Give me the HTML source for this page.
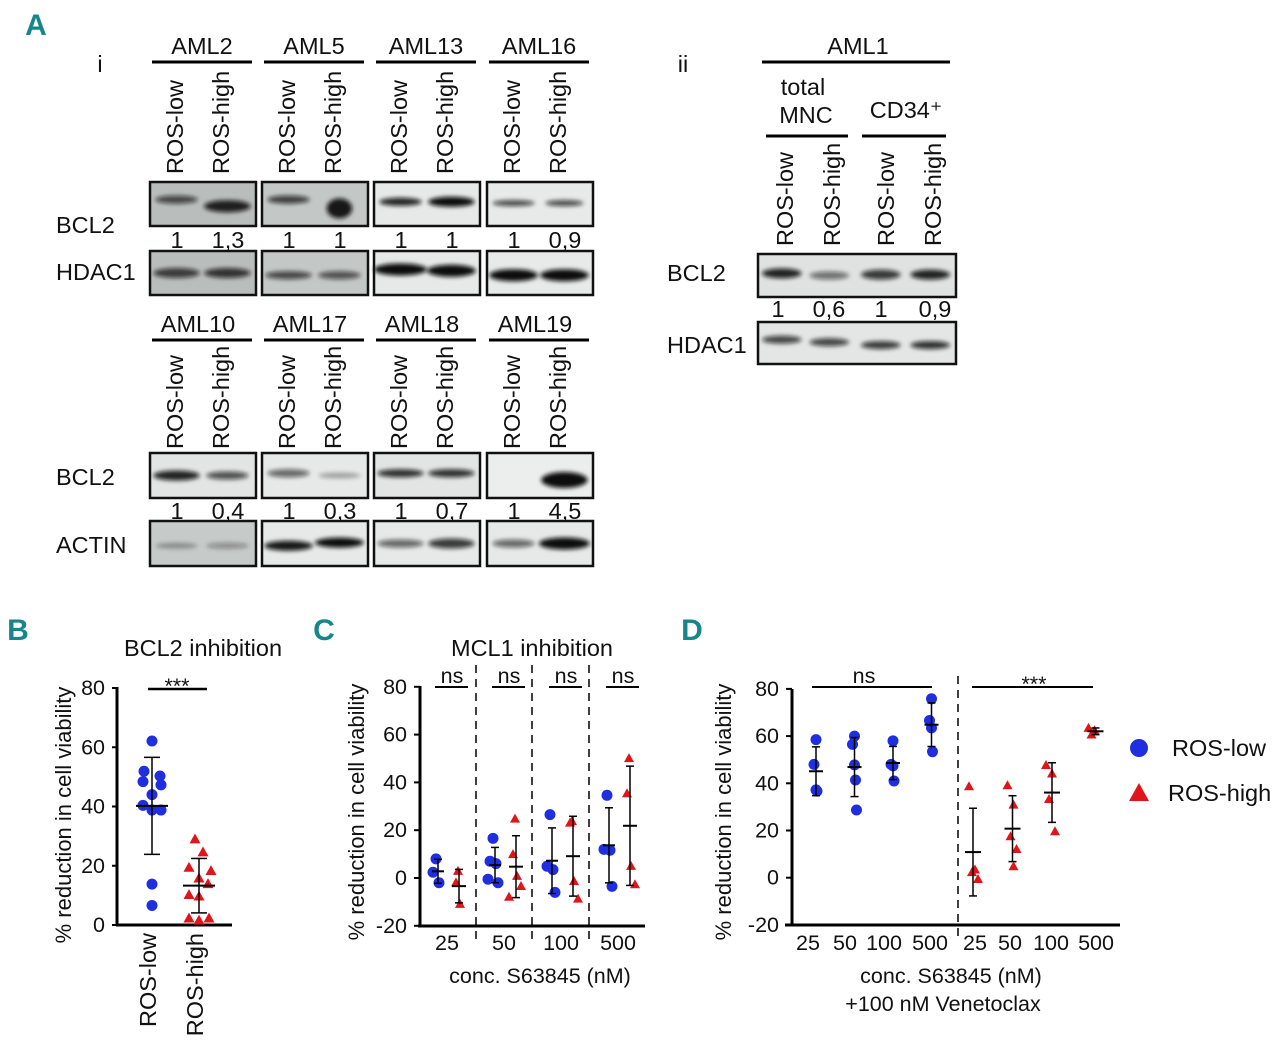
<!DOCTYPE html>
<html><head><meta charset="utf-8">
<style>
html,body{margin:0;padding:0;background:#fff;}
svg{display:block;font-family:"Liberation Sans",sans-serif;}
.lab{font-size:23.5px;fill:#111;}
.tick{font-size:21.5px;fill:#111;}
.ytitle{font-size:22px;fill:#111;}
.panel{font-family:"Liberation Sans Narrow","Liberation Sans",sans-serif;font-weight:bold;font-size:30px;fill:#17868a;}
</style></head>
<body>
<svg id="fig" width="1280" height="1047" viewBox="0 0 1280 1047">
<defs>
<filter id="blur" x="-20%" y="-100%" width="140%" height="300%"><feGaussianBlur stdDeviation="2.2"/></filter>
</defs>
<g id="panelA"></g>
<g id="panelB"></g>
<g id="panelC"></g>
<g id="panelD"></g>
<g id="legend"></g>
</svg>
<script>
// ---------- Panel B data ----------
const bCategories = ["ROS-low","ROS-high"];
const bLow = [62.1,51.9,50.3,48.4,47.3,44,40.4,38.8,38.8,13.8,6.6];
const bHigh = [28.9,24.5,19.3,18.2,15.7,13.8,10.1,9.6,2.2,1.5,2.2];
const bTicks = [0,20,40,60,80];
// ---------- Panel C data ----------
const cCategories = ["25","50","100","500"];
const cLow = [[8,2.4,-2],[16.6,7,6,-2,-0.5],[26.5,4.9,3.5,-6],[34.6,12,11.6,-3.5]];
const cHigh = [[2.8,-2,-11],[24.7,9.8,0.7,-3.5,-8],[23.7,23,-1.4,-8.8],[50,35.3,4.9,-2.8]];
const cTicks = [-20,0,20,40,60,80];
// ---------- Panel D data ----------
const dCategories = ["25","50","100","500","25","50","100","500"];
const dLow = [[58.5,48,37.2,36.7],[60,56.5,47.8,41.4,28.7],[58,48,47.4,41],[75.8,66.6,63.5,53.4]];
const dHigh = [[38.6,3.3,2.2,-0.7],[39,30.8,17.4,12,4.7],[47.6,44,33.2,19.5],[63.3,62.3,60.5]];
const dTicks = [-20,0,20,40,60,80];

const NS="http://www.w3.org/2000/svg";
const BLUE="#1f2fe0", RED="#e0141b";
function mk(parent,tag,attrs,text){const e=document.createElementNS(NS,tag);for(const k in attrs)e.setAttribute(k,attrs[k]);if(text!==undefined)e.textContent=text;parent.appendChild(e);return e;}
function line(p,x1,y1,x2,y2,w,dash){const l=mk(p,'line',{x1,y1,x2,y2,stroke:'#000','stroke-width':w||1.5});if(dash)l.setAttribute('stroke-dasharray',dash);return l;}
function txt(p,x,y,s,cls,anchor,extra){const t=mk(p,'text',Object.assign({x,y,class:cls||'lab','text-anchor':anchor||'middle'},extra||{}),s);return t;}
function mean(a){return a.reduce((s,v)=>s+v,0)/a.length;}
function sd(a){const m=mean(a);return Math.sqrt(a.reduce((s,v)=>s+(v-m)*(v-m),0)/(a.length-1));}
function circle(p,x,y,r,name){const c=mk(p,'circle',{cx:x,cy:y,r:r,fill:BLUE});

return c;}
function tri(p,x,y,s,name){const h=s*0.9;const t=mk(p,'polygon',{points:`${x},${y-h*0.6} ${x-s/2},${y+h*0.4} ${x+s/2},${y+h*0.4}`,fill:RED});

return t;}
function errbar(p,x,vals,ys,cap,mw){const m=mean(vals),s=sd(vals);line(p,x,ys(m+s),x,ys(m-s),1.5);line(p,x-cap,ys(m+s),x+cap,ys(m+s),1.5);line(p,x-cap,ys(m-s),x+cap,ys(m-s),1.5);line(p,x-mw,ys(m),x+mw,ys(m),2);}

// ---------- Panel A: blots ----------
(function(){
const g=document.getElementById('panelA');
txt(g,36,35,'A','panel');
txt(g,100,72,'i','lab');
txt(g,683,72,'ii','lab');
function blot(x,y,w,h,bg,bands,name){
 const gg=mk(g,'g',{});
 
 
 mk(gg,'rect',{x,y,width:w,height:h,fill:bg});
 bands.forEach(b=>{mk(gg,'ellipse',{cx:x+b[0]*w,cy:y+b[1]*h,rx:b[2]*w,ry:b[3],fill:'#111','fill-opacity':b[4],filter:'url(#blur)'});});
 mk(gg,'rect',{x,y,width:w,height:h,fill:'none',stroke:'#111','stroke-width':2.5});
}
const top=[["AML2",150,"#b9bdbc",[[0.25,0.4,0.2,4,0.7],[0.73,0.55,0.22,6,0.9]],[[0.25,0.5,0.22,5,0.75],[0.73,0.5,0.22,5,0.8]],["1","1,3"]],
["AML5",262,"#c3c7c6",[[0.25,0.4,0.2,4,0.75],[0.73,0.6,0.12,10,0.95]],[[0.25,0.55,0.22,4,0.7],[0.73,0.55,0.2,4,0.65]],["1","1"]],
["AML13",374,"#e6e9e8",[[0.25,0.45,0.2,4,0.9],[0.73,0.45,0.22,5,1]],[[0.25,0.42,0.25,6,1],[0.73,0.45,0.23,6,1]],["1","1"]],
["AML16",487,"#e8eaea",[[0.25,0.48,0.2,3,0.75],[0.73,0.48,0.18,3,0.75]],[[0.25,0.55,0.23,6,1],[0.73,0.55,0.23,6,1]],["1","0,9"]]];
const bot=[["AML10",150,"#e2e5e4","#c6cac9",[[0.25,0.5,0.22,5,0.9],[0.73,0.5,0.2,4,0.7]],[[0.25,0.55,0.2,3,0.3],[0.73,0.55,0.2,3,0.35]],["1","0,4"]],
["AML17",262,"#e6e9e8","#e6e9e8",[[0.25,0.45,0.2,4,0.6],[0.73,0.5,0.2,3,0.3]],[[0.25,0.55,0.23,5,0.95],[0.73,0.48,0.23,5,1]],["1","0,3"]],
["AML18",374,"#e2e5e4","#e6e9e8",[[0.25,0.45,0.22,4,0.85],[0.73,0.45,0.22,4,0.85]],[[0.25,0.5,0.22,4,0.6],[0.73,0.5,0.22,5,0.8]],["1","0,7"]],
["AML19",487,"#eceeed","#e6e9e8",[[0.73,0.6,0.22,8,1]],[[0.25,0.5,0.2,4,0.6],[0.73,0.5,0.24,6,1]],["1","4,5"]]];
top.forEach(d=>{const [n,x,bg,b1,b2,nums]=d;
 txt(g,x+52,54,n,'lab');line(g,x+2,62,x+102,62,3);
 txt(g,0,0,'ROS-low','lab','start',{transform:`translate(${x+33},174) rotate(-90)`});
 txt(g,0,0,'ROS-high','lab','start',{transform:`translate(${x+79},174) rotate(-90)`});
 blot(x,182,106,44,bg,b1,'bcl2-blot-'+n.toLowerCase());
 txt(g,x+27,248,nums[0],'lab');txt(g,x+78,248,nums[1],'lab');
 blot(x,251,106,44,bg,b2,'hdac1-blot-'+n.toLowerCase());
});
txt(g,56,233,'BCL2','lab','start');txt(g,56,280,'HDAC1','lab','start');
bot.forEach(d=>{const [n,x,bg,bg2,b1,b2,nums]=d;
 txt(g,x+48,332,n,'lab');line(g,x+2,340,x+102,340,3);
 txt(g,0,0,'ROS-low','lab','start',{transform:`translate(${x+33},449) rotate(-90)`});
 txt(g,0,0,'ROS-high','lab','start',{transform:`translate(${x+79},449) rotate(-90)`});
 blot(x,453,106,45,bg,b1,'bcl2-blot-'+n.toLowerCase());
 txt(g,x+27,519,nums[0],'lab');txt(g,x+78,519,nums[1],'lab');
 blot(x,521,106,45,bg2,b2,'actin-blot-'+n.toLowerCase());
});
txt(g,56,485,'BCL2','lab','start');txt(g,56,553,'ACTIN','lab','start');
// panel ii
txt(g,858,54,'AML1','lab');line(g,762,62,950,62,3);
txt(g,803,95,'total','lab');txt(g,806,123,'MNC','lab');
mk(g,'text',{x:906,y:118,class:'lab','text-anchor':'middle'},'CD34⁺');
line(g,766,136,848,136,3);line(g,862,136,946,136,3);
[785,832,886,933].forEach((x,i)=>{txt(g,0,0,i%2?'ROS-high':'ROS-low','lab','start',{transform:`translate(${x+8},246) rotate(-90)`});});
blot(758,254,198,43,'#dfe2e1',[[0.12,0.45,0.1,5,0.9],[0.36,0.5,0.1,4,0.55],[0.62,0.48,0.1,5,0.8],[0.87,0.48,0.1,5,0.9]],'bcl2-blot-aml1');
['1','0,6','1','0,9'].forEach((s,i)=>txt(g,[778,829,881,935][i],317,s,'lab'));
blot(758,322,198,42,'#e3e6e5',[[0.12,0.42,0.1,4,0.75],[0.36,0.48,0.1,4,0.75],[0.62,0.55,0.1,4,0.8],[0.87,0.55,0.1,4,0.85]],'hdac1-blot-aml1');
txt(g,667,281,'BCL2','lab','start');txt(g,667,353,'HDAC1','lab','start');
})();

// ---------- Panel B ----------
(function(){
const g=document.getElementById('panelB');
const y=v=>925-(v/80)*237;
const x=i=>152+i*47;
txt(g,18,640,'B','panel');
txt(g,203,656,'BCL2 inhibition','lab');
line(g,117,925,117,687,3);line(g,116,925,232,925,3);
bTicks.forEach(t=>{line(g,112,y(t),117,y(t),2);txt(g,105,y(t)+7,String(t),'tick','end');});
txt(g,0,0,'% reduction in cell viability','ytitle','middle',{transform:`translate(71,815) rotate(-90)`});
bCategories.forEach((c,i)=>txt(g,0,0,c,'lab','end',{transform:`translate(${x(i)+4},933) rotate(-90)`}));
const jit=[0,-8,8,-9,9,0,-9,0,9,0,0];
bLow.forEach((v,i)=>circle(g,x(0)+jit[i%jit.length],y(v),5.5,'ros-low-point'));
bHigh.forEach((v,i)=>tri(g,x(1)+[-4,4,-10,12,0,9,-10,0,-10,0,10][i%11],y(v),11,'ros-high-point'));
errbar(g,x(0),bLow,y,8,16);errbar(g,x(1),bHigh,y,8,16);
line(g,148,689,207,689,2.5);txt(g,177,693,'***','tick');
})();

// ---------- Panel C ----------
(function(){
const g=document.getElementById('panelC');
const y=v=>878-(v/100)*239;
const cx=i=>447+i*57;
txt(g,324,640,'C','panel');
txt(g,532,656,'MCL1 inhibition','lab');
line(g,420,927,420,686,3);line(g,418,926,645,926,3);
cTicks.forEach(t=>{line(g,414,y(t),420,y(t),2);txt(g,407,y(t)+7,String(t),'tick','end');});
txt(g,0,0,'% reduction in cell viability','ytitle','middle',{transform:`translate(364,812) rotate(-90)`});
[476,532,589].forEach(xx=>line(g,xx,665,xx,942,1.5,'8,6'));
cCategories.forEach((c,i)=>{txt(g,cx(i),950,c,'tick');line(g,cx(i)-12,687,cx(i)+21,687,2);txt(g,cx(i)+5,683,'ns','tick');});
txt(g,540,983,'conc. S63845 (nM)','tick');
cLow.forEach((arr,i)=>{arr.forEach((v,k)=>circle(g,cx(i)-11+[0,-3,3,5,-5][k],y(v),5.5,'ros-low-point'));errbar(g,cx(i)-9,arr,y,4,6);});
cHigh.forEach((arr,i)=>{arr.forEach((v,k)=>tri(g,cx(i)+11+[0,-2,2,6,-6][k],y(v),10,'ros-high-point'));errbar(g,cx(i)+12,arr,y,4,7);});
})();

// ---------- Panel D ----------
(function(){
const g=document.getElementById('panelD');
const y=v=>877.7-(v/100)*236;
const px=i=>i<4?816+i*38.5:975+(i-4)*38.5;
txt(g,692,640,'D','panel');
line(g,792,925,792,689,3);line(g,785,925,1120,925,3);
dTicks.forEach(t=>{line(g,786,y(t),792,y(t),2);txt(g,779,y(t)+7,String(t),'tick','end');});
txt(g,0,0,'% reduction in cell viability','ytitle','middle',{transform:`translate(731,812) rotate(-90)`});
line(g,958,676,958,942,1.5,'8,6');
dCategories.forEach((c,i)=>txt(g,[808,845,884,930,975,1010,1051,1096][i],950,c,'tick'));
txt(g,951,983,'conc. S63845 (nM)','tick');
txt(g,943,1011,'+100 nM Venetoclax','tick');
line(g,812,687,932,687,2);txt(g,864,683,'ns','tick');
line(g,972,687,1093,687,2);txt(g,1034,691,'***','tick');
dLow.forEach((arr,i)=>{arr.forEach((v,k)=>circle(g,px(i)+[0,-2,0,-2,2][k]+(k==3?3:0),y(v),5.5,'ros-low-point'));errbar(g,px(i),arr,y,4,7);});
dHigh.forEach((arr,i)=>{arr.forEach((v,k)=>tri(g,px(i+4)+[-6,0,-3,3,0][k]+(i==3?4:0),y(v),10,'ros-high-point'));errbar(g,px(i+4)-[2,1,0,-5][i],arr,y,4,8);});
})();

// ---------- Legend ----------
(function(){
const g=document.getElementById('legend');
const c=mk(g,'circle',{cx:1139,cy:748,r:9,fill:BLUE});


txt(g,1172,756,'ROS-low','lab','start');
const t=mk(g,'polygon',{points:'1139,783 1129,801 1149,801',fill:RED});


txt(g,1168,801,'ROS-high','lab','start');
})();
</script>
</body></html>
